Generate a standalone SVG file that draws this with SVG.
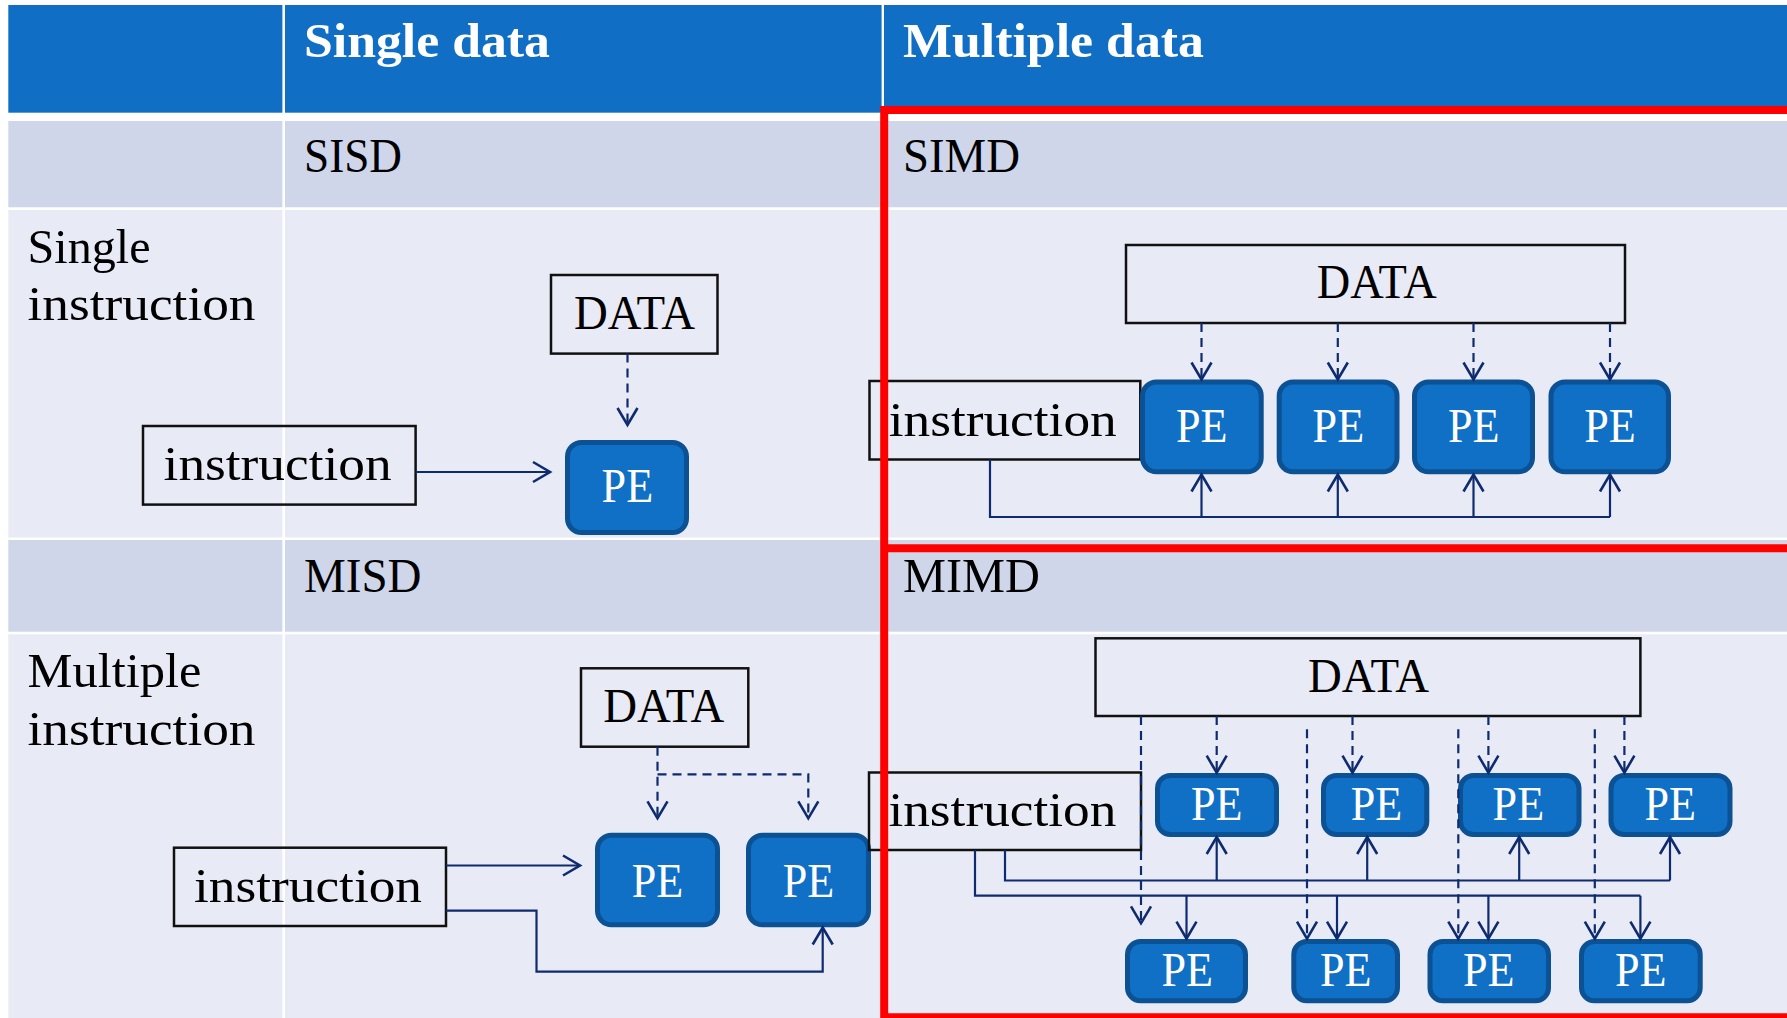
<svg xmlns="http://www.w3.org/2000/svg" width="1787" height="1018" viewBox="0 0 1787 1018">
<defs>
<style>
.hdr{fill:#106FC4}
.dark{fill:#CFD6EA}
.light{fill:#E8EBF5}
.t{font-family:"Liberation Serif","Times New Roman",serif;font-size:49px;fill:#000}
.tb{font-family:"Liberation Serif","Times New Roman",serif;font-size:49px;font-weight:bold;fill:#fff}
.pt{font-family:"Liberation Serif","Times New Roman",serif;font-size:49px;fill:#fff}
.box{fill:none;stroke:#111;stroke-width:2.5}
.pe{fill:#1070C6;stroke:#0B5193;stroke-width:5}
.c{fill:none;stroke:#0F2B6F;stroke-width:2.2}
.d{fill:none;stroke:#0F2B6F;stroke-width:2.2;stroke-dasharray:9 6}
.red{fill:none;stroke:#FF0000;stroke-width:8}
</style>
<marker id="ah" markerUnits="userSpaceOnUse" markerWidth="22" markerHeight="24" refX="18" refY="11" orient="auto" overflow="visible">
<path d="M1,1 L18,11 L1,21" fill="none" stroke="#0F2B6F" stroke-width="2.6" stroke-dasharray="none"/>
</marker>
</defs>
<rect x="0" y="0" width="1787" height="1018" fill="#fff"/>
<g id="table">
<rect class="hdr" x="8.3" y="5" width="1778.7" height="107.7"/>
<rect class="dark" x="8.3" y="121" width="1778.7" height="86.3"/>
<rect class="light" x="8.3" y="210" width="1778.7" height="327.5"/>
<rect class="dark" x="8.3" y="540" width="1778.7" height="91.7"/>
<rect class="light" x="8.3" y="634.3" width="1778.7" height="383.7"/>
<rect x="282.4" y="5" width="2.6" height="1013" fill="#fff"/>
<rect x="881.6" y="5" width="2.4" height="1013" fill="#fff"/>
<text class="tb" x="304" y="57" textLength="246" lengthAdjust="spacingAndGlyphs">Single data</text>
<text class="tb" x="903" y="57" textLength="301" lengthAdjust="spacingAndGlyphs">Multiple data</text>
<text class="t" x="304" y="171.5" textLength="98" lengthAdjust="spacingAndGlyphs">SISD</text>
<text class="t" x="903" y="171.5" textLength="117" lengthAdjust="spacingAndGlyphs">SIMD</text>
<text class="t" x="304" y="591.7" textLength="117.5" lengthAdjust="spacingAndGlyphs">MISD</text>
<text class="t" x="903" y="591.7" textLength="137" lengthAdjust="spacingAndGlyphs">MIMD</text>
<text class="t" x="27.5" y="262.5" textLength="123" lengthAdjust="spacingAndGlyphs">Single</text>
<text class="t" x="27.5" y="319.6" textLength="228" lengthAdjust="spacingAndGlyphs">instruction</text>
<text class="t" x="27.5" y="686.7" textLength="174" lengthAdjust="spacingAndGlyphs">Multiple</text>
<text class="t" x="27.5" y="745" textLength="228" lengthAdjust="spacingAndGlyphs">instruction</text>
</g>

<g id="sisd-data"><rect class="box" x="551" y="275" width="166.5" height="78.6"/><text class="t" x="574" y="328.6" textLength="121" lengthAdjust="spacingAndGlyphs">DATA</text></g>
<g id="sisd-instruction"><rect class="box" x="143" y="426" width="272.6" height="78.6"/><text class="t" x="163.6" y="480" textLength="228" lengthAdjust="spacingAndGlyphs">instruction</text></g>
<g id="sisd-pe"><rect class="pe" x="567.5" y="442.5" width="119" height="90" rx="14"/><text class="pt" x="601.6" y="502" textLength="51.5" lengthAdjust="spacingAndGlyphs">PE</text></g>

<g id="simd-data"><rect class="box" x="1126" y="245" width="499" height="78"/><text class="t" x="1316.7" y="298" textLength="120" lengthAdjust="spacingAndGlyphs">DATA</text></g>
<g id="simd-instruction"><rect class="box" x="869.5" y="381" width="270.8" height="78.5"/><text class="t" x="888.7" y="435.7" textLength="228" lengthAdjust="spacingAndGlyphs">instruction</text></g>
<g id="simd-pe1"><rect class="pe" x="1142.5" y="382" width="118.7" height="89.8" rx="14"/><text class="pt" x="1176" y="442" textLength="51.5" lengthAdjust="spacingAndGlyphs">PE</text></g>
<g id="simd-pe2"><rect class="pe" x="1279.2" y="382" width="117.8" height="89.8" rx="14"/><text class="pt" x="1312.6" y="442" textLength="51.5" lengthAdjust="spacingAndGlyphs">PE</text></g>
<g id="simd-pe3"><rect class="pe" x="1414.5" y="382" width="118" height="89.8" rx="14"/><text class="pt" x="1448" y="442" textLength="51.5" lengthAdjust="spacingAndGlyphs">PE</text></g>
<g id="simd-pe4"><rect class="pe" x="1551" y="382" width="117.5" height="89.8" rx="14"/><text class="pt" x="1584.3" y="442" textLength="51.5" lengthAdjust="spacingAndGlyphs">PE</text></g>

<g id="misd-data"><rect class="box" x="581" y="668.3" width="167.3" height="78.4"/><text class="t" x="603.3" y="721.7" textLength="121" lengthAdjust="spacingAndGlyphs">DATA</text></g>
<g id="misd-instruction"><rect class="box" x="174" y="847.7" width="272" height="78.3"/><text class="t" x="194" y="901.7" textLength="228" lengthAdjust="spacingAndGlyphs">instruction</text></g>
<g id="misd-pe1"><rect class="pe" x="597.5" y="835.2" width="120" height="89.6" rx="14"/><text class="pt" x="631.7" y="896.7" textLength="51.5" lengthAdjust="spacingAndGlyphs">PE</text></g>
<g id="misd-pe2"><rect class="pe" x="748.5" y="835.2" width="120" height="89.6" rx="14"/><text class="pt" x="782.7" y="896.7" textLength="51.5" lengthAdjust="spacingAndGlyphs">PE</text></g>

<g id="mimd-data"><rect class="box" x="1095.5" y="638.3" width="544.9" height="77.7"/><text class="t" x="1308" y="691.7" textLength="121" lengthAdjust="spacingAndGlyphs">DATA</text></g>
<g id="mimd-instruction"><rect class="box" x="869" y="772.5" width="272" height="77.5"/><text class="t" x="888.4" y="826" textLength="228" lengthAdjust="spacingAndGlyphs">instruction</text></g>
<g id="mimd-pe-t1"><rect class="pe" x="1157.5" y="775.5" width="119" height="59" rx="13"/><text class="pt" x="1191" y="819.5" textLength="51.5" lengthAdjust="spacingAndGlyphs">PE</text></g>
<g id="mimd-pe-t2"><rect class="pe" x="1323.5" y="775.5" width="103.3" height="59" rx="13"/><text class="pt" x="1350.7" y="819.5" textLength="51.5" lengthAdjust="spacingAndGlyphs">PE</text></g>
<g id="mimd-pe-t3"><rect class="pe" x="1460.5" y="775.5" width="118.5" height="59" rx="13"/><text class="pt" x="1492.6" y="819.5" textLength="51.5" lengthAdjust="spacingAndGlyphs">PE</text></g>
<g id="mimd-pe-t4"><rect class="pe" x="1611" y="775.5" width="119" height="59" rx="13"/><text class="pt" x="1644.5" y="819.5" textLength="51.5" lengthAdjust="spacingAndGlyphs">PE</text></g>
<g id="mimd-pe-b1"><rect class="pe" x="1127.5" y="941.5" width="118" height="59.3" rx="13"/><text class="pt" x="1161.5" y="986" textLength="51.5" lengthAdjust="spacingAndGlyphs">PE</text></g>
<g id="mimd-pe-b2"><rect class="pe" x="1293.8" y="941.5" width="103.7" height="59.3" rx="13"/><text class="pt" x="1320" y="986" textLength="51.5" lengthAdjust="spacingAndGlyphs">PE</text></g>
<g id="mimd-pe-b3"><rect class="pe" x="1430" y="941.5" width="118.5" height="59.3" rx="13"/><text class="pt" x="1463" y="986" textLength="51.5" lengthAdjust="spacingAndGlyphs">PE</text></g>
<g id="mimd-pe-b4"><rect class="pe" x="1581.5" y="941.5" width="118.7" height="59.3" rx="13"/><text class="pt" x="1615" y="986" textLength="51.5" lengthAdjust="spacingAndGlyphs">PE</text></g>

<g id="connectors">
<path class="d" d="M627.5,353.6 V425" marker-end="url(#ah)"/>
<path class="c" d="M415.6,472 H550" marker-end="url(#ah)"/>

<path class="d" d="M1201.5,323 V379.5" marker-end="url(#ah)"/>
<path class="d" d="M1337.8,323 V379.5" marker-end="url(#ah)"/>
<path class="d" d="M1473.5,323 V379.5" marker-end="url(#ah)"/>
<path class="d" d="M1610,323 V379.5" marker-end="url(#ah)"/>
<path class="c" d="M990,459.6 V517 H1610"/>
<path class="c" d="M1201.5,517 V474.5" marker-end="url(#ah)"/>
<path class="c" d="M1337.8,517 V474.5" marker-end="url(#ah)"/>
<path class="c" d="M1473.5,517 V474.5" marker-end="url(#ah)"/>
<path class="c" d="M1610,517 V474.5" marker-end="url(#ah)"/>

<path class="d" d="M657.5,746.7 V818.3" marker-end="url(#ah)"/>
<path class="d" d="M657.5,774.3 H808.3 V818.3" marker-end="url(#ah)"/>
<path class="c" d="M446,865.5 H580" marker-end="url(#ah)"/>
<path class="c" d="M446,910.7 H536.5 V971.7 H822.7 V927.5" marker-end="url(#ah)"/>

<path class="d" d="M1216.7,716 V772.7" marker-end="url(#ah)"/>
<path class="d" d="M1352.5,716 V772.7" marker-end="url(#ah)"/>
<path class="d" d="M1488.4,716 V772.7" marker-end="url(#ah)"/>
<path class="d" d="M1624.4,716 V772.7" marker-end="url(#ah)"/>
<path class="d" d="M1141,716 V923.3" marker-end="url(#ah)"/>
<path class="d" d="M1307,729.3 V938.7" marker-end="url(#ah)"/>
<path class="d" d="M1458.3,729.3 V938.7" marker-end="url(#ah)"/>
<path class="d" d="M1594.8,729.3 V938.7" marker-end="url(#ah)"/>
<path class="c" d="M1005,850 V880.5 H1670"/>
<path class="c" d="M1216.7,880.5 V837" marker-end="url(#ah)"/>
<path class="c" d="M1367.2,880.5 V837" marker-end="url(#ah)"/>
<path class="c" d="M1519.2,880.5 V837" marker-end="url(#ah)"/>
<path class="c" d="M1670,880.5 V837" marker-end="url(#ah)"/>
<path class="c" d="M975,850 V895.7 H1640.4"/>
<path class="c" d="M1186.5,895.7 V938.7" marker-end="url(#ah)"/>
<path class="c" d="M1337,895.7 V938.7" marker-end="url(#ah)"/>
<path class="c" d="M1488.4,895.7 V938.7" marker-end="url(#ah)"/>
<path class="c" d="M1640.4,895.7 V938.7" marker-end="url(#ah)"/>
</g>

<g id="highlight">
<path class="red" d="M1800,110 H884.2 V1017.3 H1800"/>
<path class="red" d="M884.2,548.3 H1800"/>
</g>
</svg>
